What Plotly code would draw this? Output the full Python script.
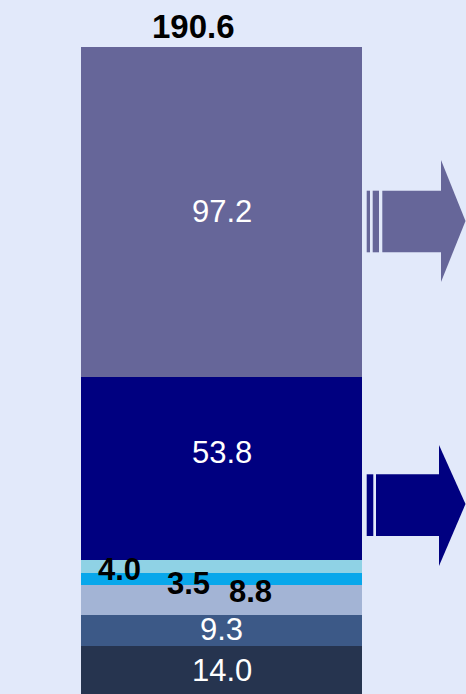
import plotly.graph_objects as go

# ---- data ----
segment_names = ["Seg 1", "Seg 2", "Seg 3", "Seg 4", "Seg 5", "Seg 6", "Seg 7"]
segment_values = [14.0, 9.3, 8.8, 3.5, 4.0, 53.8, 97.2]
segment_colors = ["#26344f", "#3c5987", "#a3b4d5", "#08a7eb", "#8fd2e5", "#000080", "#666699"]
label_colors = ["white", "white", "black", "black", "black", "white", "white"]
bar_category = [0]

W, H = 466, 694
BG = "#e2e9fa"
total = sum(segment_values)
ymax = total * H / 647.0

fig = go.Figure()
for name, v, c in zip(segment_names, segment_values, segment_colors):
    fig.add_trace(go.Bar(x=bar_category, y=[v], name=name, marker=dict(color=c, line=dict(width=0)),
                         width=1.0, hoverinfo="skip"))

# labels
# offsets (pixels) for the labels that are not centred in their segment
shifts = {1: (0, 1), 2: (29, 8), 3: (-33, -4), 4: (-102, -3), 5: (0, 16)}
base = 0.0
for i, (v, lc) in enumerate(zip(segment_values, label_colors)):
    mid = base + v / 2
    base += v
    xs, ys = shifts.get(i, (0, 0))
    bold = lc == "black"
    fig.add_annotation(x=bar_category[0], y=mid, xref="x", yref="y", text=f"{v:.1f}",
                       showarrow=False, xshift=xs, yshift=ys,
                       font=dict(family="Liberation Sans, Arial", size=31, color=lc,
                                 weight="bold" if bold else "normal"))

fig.add_annotation(x=bar_category[0], y=total, xref="x", yref="y", text=f"{total:.1f}",
                   showarrow=False, yanchor="bottom", yshift=0, xshift=-28,
                   font=dict(family="Liberation Sans, Arial", size=33, color="black", weight="bold"))


# arrows (decoration) drawn in pixel space
def px(x):
    return x / W


def py(y):
    return 1 - y / H


def rect(x0, x1, y0, y1, color):
    fig.add_shape(type="rect", xref="paper", yref="paper", x0=px(x0), x1=px(x1), y0=py(y1), y1=py(y0),
                  fillcolor=color, line=dict(width=0), layer="above")


def head(xb, xt, y0, yc, y1, color):
    path = f"M {px(xb)} {py(y0)} L {px(xt)} {py(yc)} L {px(xb)} {py(y1)} Z"
    fig.add_shape(type="path", xref="paper", yref="paper", path=path,
                  fillcolor=color, line=dict(width=0), layer="above")


c1 = segment_colors[6]
rect(366.7, 370.0, 190.7, 252.3, c1)
rect(372.7, 379.0, 190.7, 252.3, c1)
rect(382.3, 441.5, 190.7, 252.3, c1)
head(441, 465.5, 160, 221, 282, c1)

c2 = segment_colors[5]
rect(366.7, 373.3, 474.3, 536.0, c2)
rect(376.0, 439.5, 474.3, 536.0, c2)
head(439, 465.5, 445, 504, 566, c2)

fig.update_layout(
    width=W, height=H, barmode="stack", showlegend=False,
    paper_bgcolor=BG, plot_bgcolor=BG,
    margin=dict(l=0, r=0, t=0, b=0),
    xaxis=dict(range=[-221.5 / 281, (W - 221.5) / 281], visible=False, fixedrange=True),
    yaxis=dict(range=[0, ymax], visible=False, fixedrange=True),
    bargap=0,
)

fig.write_html("out.html")
